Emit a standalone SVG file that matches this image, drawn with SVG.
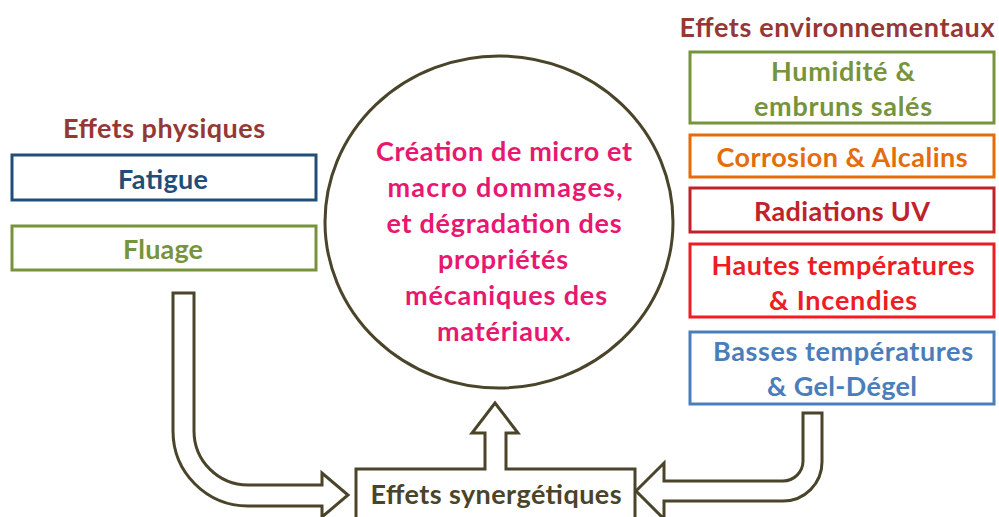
<svg xmlns="http://www.w3.org/2000/svg" width="999" height="517" viewBox="0 0 999 517">
<style>
text{font-family:Lato,"Open Sans","Liberation Sans",sans-serif;font-weight:bold;text-anchor:middle;dominant-baseline:central;font-size:27px}
.box{fill:#fff;stroke-width:3}
.h{fill:#953735}
.conn{fill:#fff;stroke:#4A442A;stroke-width:3;stroke-linejoin:miter}
</style>
<rect width="999" height="517" fill="#fff"/>
<text class="h" x="164" y="127" textLength="202">Effets physiques</text>
<text class="h" x="837" y="26" textLength="315">Effets environnementaux</text>
<g id="fatigue"><rect class="box" x="12" y="155" width="304" height="45" stroke="#1F4E79"/><text x="163" y="178" fill="#1F4E79" textLength="90">Fatigue</text></g>
<g id="fluage"><rect class="box" x="12" y="226" width="304" height="44" stroke="#77933C"/><text x="163" y="248" fill="#77933C" textLength="80">Fluage</text></g>
<g id="humidite"><rect class="box" x="690" y="52" width="304" height="71" stroke="#77933C"/><text x="843" y="70" fill="#77933C" textLength="144">Humidité &amp;</text><text x="843" y="105" fill="#77933C" textLength="178">embruns salés</text></g>
<g id="corrosion"><rect class="box" x="690" y="135" width="304" height="42" stroke="#E46C0A"/><text x="842" y="156" fill="#E46C0A" textLength="251">Corrosion &amp; Alcalins</text></g>
<g id="uv"><rect class="box" x="690" y="188" width="304" height="44" stroke="#C0222B"/><text x="842" y="210" fill="#C0222B" textLength="176">Radiations UV</text></g>
<g id="hautes"><rect class="box" x="690" y="244" width="304" height="73" stroke="#EE1C25"/><text x="843" y="264" fill="#EE1C25" textLength="263">Hautes températures</text><text x="843" y="299" fill="#EE1C25" textLength="148">&amp; Incendies</text></g>
<g id="basses"><rect class="box" x="690" y="332" width="304" height="72" stroke="#4A7EBB"/><text x="843" y="350" fill="#4A7EBB" textLength="260">Basses températures</text><text x="842" y="385" fill="#4A7EBB" textLength="150">&amp; Gel-Dégel</text></g>
<g id="centre"><ellipse cx="499" cy="222" rx="174" ry="166" fill="#fff" stroke="#4A442A" stroke-width="3"/>
<g fill="#E8176F"><text x="504" y="150" textLength="256">Création de micro et</text><text x="505" y="186" textLength="235">macro dommages,</text><text x="504" y="222" textLength="235">et dégradation des</text><text x="503" y="258" textLength="130">propriétés</text><text x="506" y="294" textLength="202">mécaniques des</text><text x="504" y="330" textLength="134">matériaux.</text></g></g>
<g id="connectors">
<path class="conn" d="M173,293 L194,293 L194,431 A54,54 0 0 0 248,485 L322,485 L322,473 L348,495 L322,517 L322,506 L248,506 A75,75 0 0 1 173,431 Z"/>
<path class="conn" d="M803,413 L822,413 L822,462 A39,39 0 0 1 783,501 L664,501 L664,519 L636,491 L664,463 L664,481 L783,481 A20,20 0 0 0 803,461 Z"/>
</g>
<g id="synergie"><path class="conn" d="M356,520 L356,469 L485,469 L485,433 L472,433 L495,403 L518,433 L506,433 L506,469 L635,469 L635,520"/><text x="496" y="493" fill="#4A442A" textLength="251">Effets synergétiques</text></g>
</svg>
